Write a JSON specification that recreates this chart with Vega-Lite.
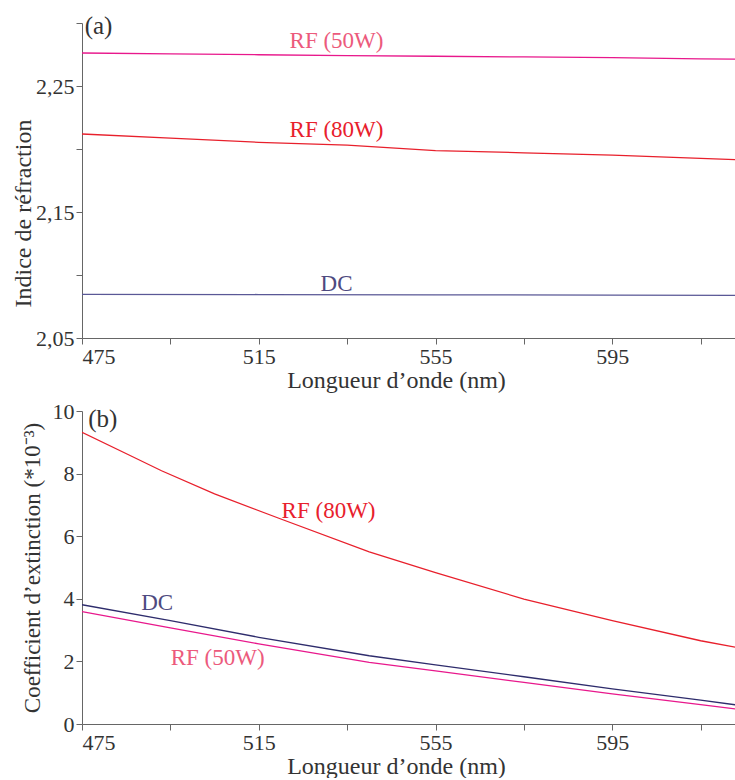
{
  "$schema": "https://vega.github.io/schema/vega-lite/v6.json",
  "padding": {"left": 11, "top": 12, "right": 0, "bottom": 0},
  "background": "white",
  "spacing": 8,
  "config": {
    "font": "Liberation Serif",
    "view": {"stroke": null},
    "axis": {
      "grid": false,
      "labelFont": "Liberation Serif",
      "titleFont": "Liberation Serif",
      "labelFontSize": 22,
      "titleFontSize": 23,
      "titleFontWeight": "normal",
      "labelColor": "#333333",
      "titleColor": "#333333",
      "domainColor": "#666666",
      "tickColor": "#666666",
      "tickSize": 6,
      "labelPadding": 2,
      "labelOverlap": false
    },
    "text": {"font": "Liberation Serif", "fontSize": 23}
  },
  "datasets": {
    "top": [
      {"nm": 475, "n": 2.2762, "s": "RF (50W)"}, {"nm": 495, "n": 2.2755, "s": "RF (50W)"}, {"nm": 515, "n": 2.2748, "s": "RF (50W)"}, {"nm": 535, "n": 2.2741, "s": "RF (50W)"}, {"nm": 555, "n": 2.2736, "s": "RF (50W)"}, {"nm": 575, "n": 2.2731, "s": "RF (50W)"}, {"nm": 595, "n": 2.2725, "s": "RF (50W)"}, {"nm": 615, "n": 2.2716, "s": "RF (50W)"}, {"nm": 623, "n": 2.2714, "s": "RF (50W)"},
      {"nm": 475, "n": 2.2119, "s": "RF (80W)"}, {"nm": 495, "n": 2.2086, "s": "RF (80W)"}, {"nm": 515, "n": 2.2053, "s": "RF (80W)"}, {"nm": 535, "n": 2.2030, "s": "RF (80W)"}, {"nm": 555, "n": 2.1987, "s": "RF (80W)"}, {"nm": 575, "n": 2.1970, "s": "RF (80W)"}, {"nm": 595, "n": 2.1952, "s": "RF (80W)"}, {"nm": 615, "n": 2.1925, "s": "RF (80W)"}, {"nm": 623, "n": 2.1915, "s": "RF (80W)"},
      {"nm": 475, "n": 2.0847, "s": "DC"}, {"nm": 515, "n": 2.0845, "s": "DC"}, {"nm": 555, "n": 2.0843, "s": "DC"}, {"nm": 595, "n": 2.0841, "s": "DC"}, {"nm": 623, "n": 2.0839, "s": "DC"}
    ],
    "topLabels": [
      {"nm": 532.6, "n": 2.2857, "t": "RF (50W)"},
      {"nm": 532.6, "n": 2.215, "t": "RF (80W)"},
      {"nm": 532.6, "n": 2.0929, "t": "DC"}
    ],
    "bottom": [
      {"nm": 475, "k": 9.32, "s": "RF (80W)"}, {"nm": 486, "k": 8.57, "s": "RF (80W)"}, {"nm": 493, "k": 8.09, "s": "RF (80W)"}, {"nm": 505, "k": 7.35, "s": "RF (80W)"}, {"nm": 520, "k": 6.55, "s": "RF (80W)"}, {"nm": 540, "k": 5.5, "s": "RF (80W)"}, {"nm": 555, "k": 4.84, "s": "RF (80W)"}, {"nm": 575, "k": 3.99, "s": "RF (80W)"}, {"nm": 595, "k": 3.3, "s": "RF (80W)"}, {"nm": 615, "k": 2.66, "s": "RF (80W)"}, {"nm": 623, "k": 2.45, "s": "RF (80W)"},
      {"nm": 475, "k": 3.81, "s": "DC"}, {"nm": 495, "k": 3.3, "s": "DC"}, {"nm": 515, "k": 2.77, "s": "DC"}, {"nm": 540, "k": 2.18, "s": "DC"}, {"nm": 555, "k": 1.89, "s": "DC"}, {"nm": 575, "k": 1.51, "s": "DC"}, {"nm": 595, "k": 1.12, "s": "DC"}, {"nm": 615, "k": 0.76, "s": "DC"}, {"nm": 623, "k": 0.61, "s": "DC"},
      {"nm": 475, "k": 3.59, "s": "RF (50W)"}, {"nm": 495, "k": 3.07, "s": "RF (50W)"}, {"nm": 515, "k": 2.56, "s": "RF (50W)"}, {"nm": 540, "k": 1.97, "s": "RF (50W)"}, {"nm": 555, "k": 1.7, "s": "RF (50W)"}, {"nm": 575, "k": 1.33, "s": "RF (50W)"}, {"nm": 595, "k": 0.96, "s": "RF (50W)"}, {"nm": 615, "k": 0.62, "s": "RF (50W)"}, {"nm": 623, "k": 0.48, "s": "RF (50W)"}
    ],
    "bottomLabels": [
      {"nm": 530.8, "k": 6.81, "t": "RF (80W)"},
      {"nm": 492, "k": 3.85, "t": "DC"},
      {"nm": 505.7, "k": 2.1, "t": "RF (50W)"}
    ],
    "panelA": [{"nm": 475.6, "n": 2.298, "t": "(a)"}],
    "panelB": [{"nm": 476.4, "k": 9.75, "t": "(b)"}]
  },
  "vconcat": [
    {
      "width": 654,
      "height": 315,
      "layer": [
        {
          "data": {"name": "top"},
          "mark": {"type": "line", "strokeWidth": 1.3, "clip": true},
          "encoding": {
            "x": {"field": "nm", "type": "quantitative", "scale": {"domain": [475, 623], "nice": false, "zero": false},
              "axis": {"title": "Longueur d’onde (nm)", "titleFontSize": 24, "titleX": 314, "values": [475, 495, 515, 535, 555, 575, 595, 615], "labelExpr": "(datum.value - 475) % 40 == 0 ? datum.label : ''", "titlePadding": 1}},
            "y": {"field": "n", "type": "quantitative", "scale": {"domain": [2.05, 2.3], "nice": false, "zero": false},
              "axis": {"title": "Indice de réfraction", "titleFontSize": 24, "titleY": 190, "values": [2.05, 2.1, 2.15, 2.2, 2.25, 2.3], "labelExpr": "(round(datum.value * 100) % 10 == 5) ? replace(format(datum.value, '.2f'), '.', ',') : ''", "titlePadding": 0}},
            "color": {"field": "s", "type": "nominal", "legend": null, "scale": {"domain": ["RF (50W)", "RF (80W)", "DC"], "range": ["#e8188c", "#e8202c", "#5a5896"]}},
            "detail": {"field": "s"}
          }
        },
        {
          "data": {"name": "topLabels"},
          "mark": {"type": "text", "align": "center", "baseline": "middle"},
          "encoding": {
            "x": {"field": "nm", "type": "quantitative"},
            "y": {"field": "n", "type": "quantitative"},
            "text": {"field": "t"},
            "color": {"field": "t", "type": "nominal", "legend": null, "scale": {"domain": ["RF (50W)", "RF (80W)", "DC"], "range": ["#ec5a7c", "#e8202c", "#4e4a80"]}}
          }
        },
        {
          "data": {"name": "panelA"},
          "mark": {"type": "text", "align": "left", "baseline": "middle", "color": "#333333", "fontSize": 25},
          "encoding": {
            "x": {"field": "nm", "type": "quantitative"},
            "y": {"field": "n", "type": "quantitative"},
            "text": {"field": "t"}
          }
        }
      ],
      "resolve": {"scale": {"color": "independent"}}
    },
    {
      "width": 654,
      "height": 313,
      "layer": [
        {
          "data": {"name": "bottom"},
          "mark": {"type": "line", "strokeWidth": 1.3, "clip": true},
          "encoding": {
            "x": {"field": "nm", "type": "quantitative", "scale": {"domain": [475, 623], "nice": false, "zero": false},
              "axis": {"title": "Longueur d’onde (nm)", "titleFontSize": 24, "titleX": 314, "values": [475, 495, 515, 535, 555, 575, 595, 615], "labelExpr": "(datum.value - 475) % 40 == 0 ? datum.label : ''", "titlePadding": 1}},
            "y": {"field": "k", "type": "quantitative", "scale": {"domain": [0, 10], "nice": false},
              "axis": {"title": "Coefficient d’extinction (*10⁻³)", "values": [0, 1, 2, 3, 4, 5, 6, 7, 8, 9, 10], "labelExpr": "datum.value % 2 == 0 ? datum.label : ''", "titlePadding": 8}},
            "color": {"field": "s", "type": "nominal", "legend": null, "scale": {"domain": ["RF (50W)", "RF (80W)", "DC"], "range": ["#e8188c", "#e8202c", "#2e2c6c"]}},
            "detail": {"field": "s"}
          }
        },
        {
          "data": {"name": "bottomLabels"},
          "mark": {"type": "text", "align": "center", "baseline": "middle"},
          "encoding": {
            "x": {"field": "nm", "type": "quantitative"},
            "y": {"field": "k", "type": "quantitative"},
            "text": {"field": "t"},
            "color": {"field": "t", "type": "nominal", "legend": null, "scale": {"domain": ["RF (50W)", "RF (80W)", "DC"], "range": ["#ec5a7c", "#e8202c", "#4e4a80"]}}
          }
        },
        {
          "data": {"name": "panelB"},
          "mark": {"type": "text", "align": "left", "baseline": "middle", "color": "#333333", "fontSize": 25},
          "encoding": {
            "x": {"field": "nm", "type": "quantitative"},
            "y": {"field": "k", "type": "quantitative"},
            "text": {"field": "t"}
          }
        }
      ],
      "resolve": {"scale": {"color": "independent"}}
    }
  ]
}
